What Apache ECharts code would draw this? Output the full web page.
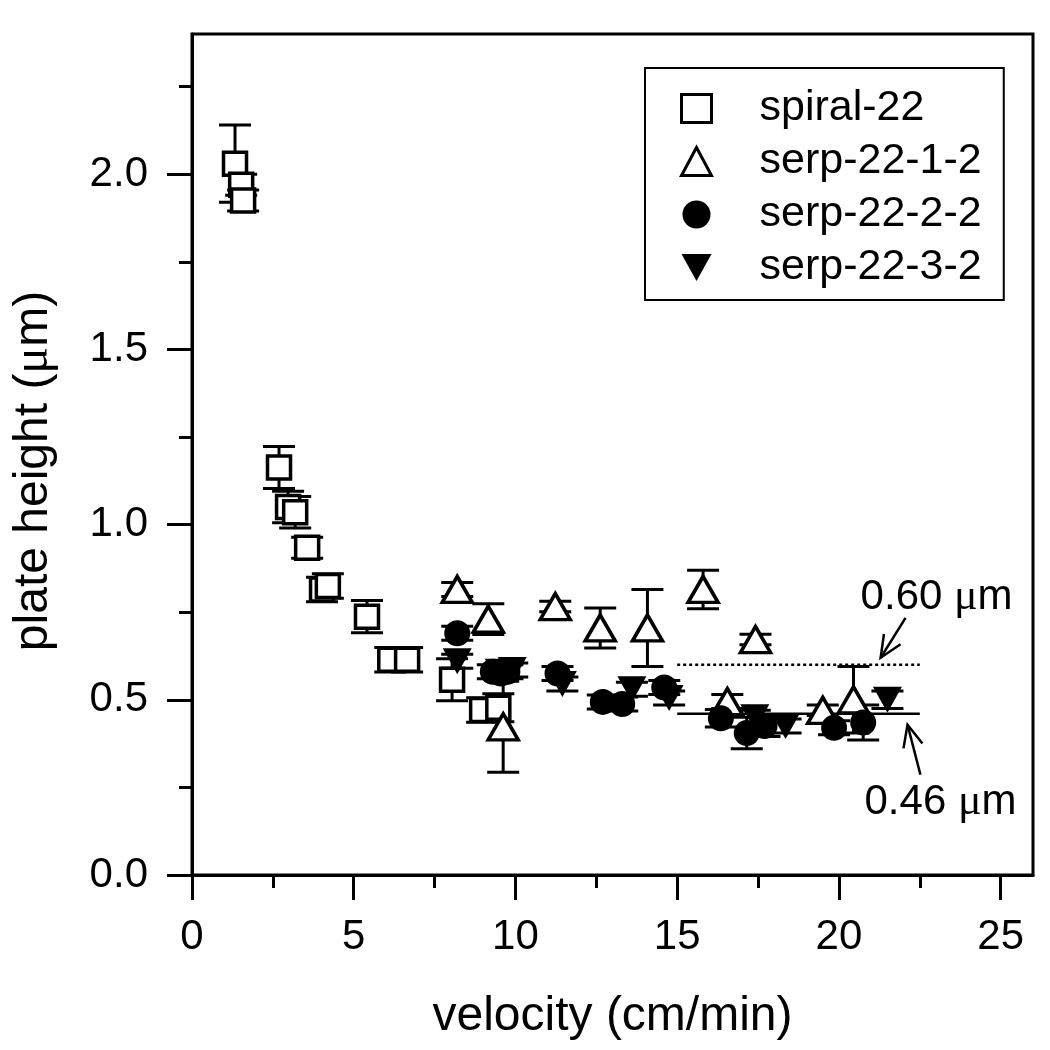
<!DOCTYPE html>
<html><head><meta charset="utf-8">
<script src="https://cdn.jsdelivr.net/npm/echarts@6/dist/echarts.min.js"></script>
<style>html,body{margin:0;padding:0;background:#fff}#c{width:1050px;height:1050px}</style>
</head><body><div id="c"></div>
<script>
// [velocity (cm/min), plate height (um), error]
const spiral22 = [
  [1.33,2.03,0.11],[1.52,1.97,0.03],[1.58,1.925,0.03],[2.69,1.163,0.06],
  [2.97,1.05,0.045],[3.19,1.035,0.045],[3.56,0.934,0.03],[4.02,0.815,0.035],
  [4.2,0.825,0.035],[5.41,0.737,0.046],[6.13,0.614,0.035],[6.65,0.614,0.035],
  [8.04,0.557,0.06],[8.97,0.471,0.035],[9.47,0.477,0.04]
];
const serp1 = [
  [8.2,0.815,0.02],[9.16,0.73,0.044],[9.62,0.423,0.13],[11.23,0.766,0.015],
  [12.62,0.705,0.057],[14.08,0.705,0.11],[15.8,0.815,0.055],[16.55,0.495,0.02],
  [17.42,0.672,0.015],[19.5,0.47,0.015],[20.45,0.5,0.095]
];
const serp2 = [
  [8.2,0.69,0.02],[9.3,0.58,0.02],[9.55,0.575,0.02],[9.75,0.58,0.02],
  [11.3,0.575,0.02],[12.7,0.494,0.02],[13.3,0.488,0.02],[14.6,0.535,0.02],
  [16.35,0.447,0.025],[17.15,0.405,0.045],[17.7,0.425,0.03],[19.85,0.42,0.02],
  [20.75,0.435,0.05]
];
const serp3 = [
  [8.2,0.61,0.02],[9.5,0.58,0.02],[9.9,0.585,0.02],[11.45,0.545,0.02],
  [13.6,0.53,0.02],[14.75,0.505,0.02],[17.4,0.45,0.02],[18.35,0.425,0.02],
  [21.5,0.5,0.025]
];
const seriesNames = ['spiral-22','serp-22-1-2','serp-22-2-2','serp-22-3-2'];
const xMajorTicks = [0,5,10,15,20,25];
const xMinorTicks = [2.5,7.5,12.5,17.5,22.5];
const yMajorTicks = [0,0.5,1,1.5,2];
const yMinorTicks = [0.25,0.75,1.25,1.75,2.25];
const refLine060 = [[15,0.60],[22.5,0.60]];
const refLine046 = [[15,0.46],[22.5,0.46]];
const arrows = [[22.06,0.734,21.29,0.62],[22.52,0.286,22.12,0.429]];
const notes = [[23.02,0.791,'0.60 ','μ','m'],[23.14,0.206,'0.46 ','μ','m']];

const FONT = '"Liberation Sans", Arial, sans-serif';
const chart = echarts.init(document.getElementById('c'));

function errRender(params, api){
  const x=api.value(0), y=api.value(1), e=api.value(2);
  const hi=api.coord([x,y+e]), lo=api.coord([x,y-e]);
  const w=16, st={stroke:'#000', lineWidth:3};
  return {type:'group', children:[
    {type:'line', shape:{x1:hi[0],y1:hi[1],x2:lo[0],y2:lo[1]}, style:st},
    {type:'line', shape:{x1:hi[0]-w,y1:hi[1],x2:hi[0]+w,y2:hi[1]}, style:st},
    {type:'line', shape:{x1:lo[0]-w,y1:lo[1],x2:lo[0]+w,y2:lo[1]}, style:st}
  ]};
}
function arrowRender(params, api){
  const a=api.coord([api.value(0),api.value(1)]), b=api.coord([api.value(2),api.value(3)]);
  const ang=Math.atan2(b[1]-a[1], b[0]-a[0]), L=24, s=0.42;
  const st={stroke:'#000', lineWidth:2.5};
  const h1=[b[0]-L*Math.cos(ang-s), b[1]-L*Math.sin(ang-s)];
  const h2=[b[0]-L*Math.cos(ang+s), b[1]-L*Math.sin(ang+s)];
  return {type:'group', children:[
    {type:'line', shape:{x1:a[0],y1:a[1],x2:b[0],y2:b[1]}, style:st},
    {type:'polyline', shape:{points:[h1,b,h2]}, style:{stroke:'#000', lineWidth:2.5, fill:null}}
  ]};
}
function noteRender(params, api){
  const p=api.coord([api.value(0),api.value(1)]);
  const d=notes[params.dataIndex];
  return {type:'text', x:p[0], y:p[1], style:{
    text:'{a|'+d[2]+'}{b|'+d[3]+'}{a|'+d[4]+'}',
    align:'center', verticalAlign:'middle',
    rich:{a:{fontFamily:FONT,fontSize:42,fill:'#000'},b:{fontFamily:'"Liberation Serif", serif',fontSize:44,fill:'#000'}}
  }};
}

const openStyle = {color:'#fff', borderColor:'#000', borderWidth:3.5, opacity:1};
const fillStyle = {color:'#000', borderColor:'#000', borderWidth:0, opacity:1};
const datasets = [spiral22, serp1, serp2, serp3];
const symbols = ['rect','triangle','circle','path://M0,0L10,0L5,9Z'];
const sizes = [23,[30,26],26,[29,26]];
const styles = [openStyle, openStyle, fillStyle, fillStyle];

const series = [];
datasets.forEach((d,i)=>{
  series.push({type:'custom', name:'err'+i, data:d, renderItem:errRender, z:2, silent:true,
    encode:{x:0,y:1}});
});
datasets.forEach((d,i)=>{
  series.push({type:'scatter', name:seriesNames[i], data:d.map(p=>[p[0],p[1]]),
    symbol:symbols[i], symbolSize:sizes[i], itemStyle:styles[i], z:3, silent:true,
    emphasis:{disabled:true}});
});
series.push({type:'line', name:'l060', data:refLine060, symbol:'none', silent:true, z:1,
  lineStyle:{color:'#000', width:2.5, type:[3,3]}});
series.push({type:'line', name:'l046', data:refLine046, symbol:'none', silent:true, z:1,
  lineStyle:{color:'#000', width:2.5, type:'solid'}});
series.push({type:'custom', name:'arrows', data:arrows, renderItem:arrowRender, silent:true, z:4,
  encode:{x:[0,2],y:[1,3]}});
series.push({type:'custom', name:'notes', data:notes.map(n=>[n[0],n[1]]), renderItem:noteRender, silent:true, z:4,
  encode:{x:0,y:1}});

const axisLineStyle = {color:'#000', width:3};
chart.setOption({
  animation:false,
  backgroundColor:'#fff',
  grid:{left:192, top:34, width:841, height:841, show:true, borderColor:'#000', borderWidth:3,
    backgroundColor:'transparent', containLabel:false, outerBoundsMode:'none'},
  legend:{
    data:seriesNames.map((n,i)=>({name:n, itemStyle:{borderWidth: i<2 ? 3 : 0}})),
    orient:'vertical', left:645, top:68,
    padding:[14,22,6,35], itemWidth:30, itemHeight:28, itemGap:0, symbolKeepAspect:true,
    borderColor:'#000', borderWidth:2, backgroundColor:'#fff',
    selectedMode:false, inactiveColor:'#000',
    textStyle:{fontFamily:FONT, fontSize:43, color:'#000', lineHeight:53, padding:[0,0,0,43]}
  },
  xAxis:[
    {type:'value', min:0, max:26, interval:5, gridIndex:0,
      axisLine:{show:true, onZero:false, lineStyle:axisLineStyle},
      axisTick:{show:true, inside:false, length:25, lineStyle:axisLineStyle, customValues:xMajorTicks},
      axisLabel:{show:true, margin:41, fontFamily:FONT, fontSize:42, color:'#000', customValues:xMajorTicks},
      splitLine:{show:false},
      name:'velocity (cm/min)', nameLocation:'middle', nameGap:118,
      nameTextStyle:{fontFamily:FONT, fontSize:48, color:'#000'}},
    {type:'value', min:0, max:26, interval:2.5, gridIndex:0, position:'bottom',
      axisLine:{show:false},
      axisTick:{show:true, inside:false, length:13, lineStyle:axisLineStyle, customValues:xMinorTicks},
      axisLabel:{show:false}, splitLine:{show:false}}
  ],
  yAxis:[
    {type:'value', min:0, max:2.4, interval:0.5, gridIndex:0,
      axisLine:{show:true, onZero:false, lineStyle:axisLineStyle},
      axisTick:{show:true, inside:false, length:25, lineStyle:axisLineStyle, customValues:yMajorTicks},
      axisLabel:{show:true, margin:44, fontFamily:FONT, fontSize:42, color:'#000', customValues:yMajorTicks,
        formatter:v=>Number(v).toFixed(1)},
      splitLine:{show:false}},
    {type:'value', min:0, max:2.4, interval:0.25, gridIndex:0, position:'left',
      axisLine:{show:false},
      axisTick:{show:true, inside:false, length:13, lineStyle:axisLineStyle, customValues:yMinorTicks},
      axisLabel:{show:false}, splitLine:{show:false}}
  ],
  graphic:[{type:'text', x:34, y:471, rotation:Math.PI/2, silent:true,
    style:{text:'{a|plate height (}{b|μ}{a|m)}', align:'center', verticalAlign:'middle',
      rich:{a:{fontFamily:FONT,fontSize:48,fill:'#000'},b:{fontFamily:'"Liberation Serif", serif',fontSize:50,fill:'#000'}}}}],
  series:series
});
</script>
</body></html>
